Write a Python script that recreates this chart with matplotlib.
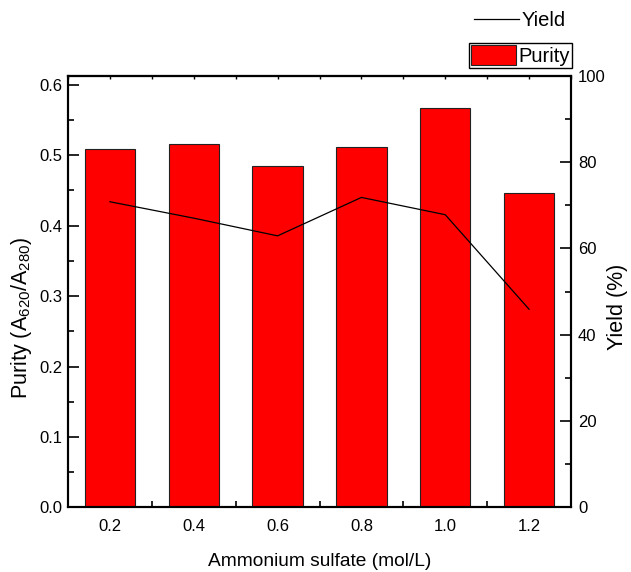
import matplotlib
matplotlib.use("Agg")
import matplotlib.pyplot as plt
from matplotlib.ticker import MultipleLocator, FormatStrFormatter
from matplotlib.lines import Line2D
from matplotlib.patches import Patch

plt.rcParams['font.family'] = ['Liberation Sans', 'DejaVu Sans']
plt.rcParams['mathtext.default'] = 'regular'

concentration = [0.2, 0.4, 0.6, 0.8, 1.0, 1.2]
purity = [0.509, 0.516, 0.485, 0.512, 0.567, 0.447]
yield_pct = [70.8, 67.0, 62.9, 71.8, 67.8, 45.9]
x_ticks = [0.2, 0.4, 0.6, 0.8, 1.0, 1.2]

fig = plt.figure(figsize=(6.31, 5.72), dpi=100)
ax = fig.add_axes([0.1078, 0.1129, 0.7971, 0.7548])
ax.bar(concentration, purity, width=0.12, color='#ff0000', edgecolor='#222222', linewidth=0.8, zorder=2)
ax.set_xlim(0.1, 1.3)
ax.set_ylim(0, 0.613)
ax.set_xticks(x_ticks)
ax.xaxis.set_minor_locator(MultipleLocator(0.1))
ax.xaxis.set_major_formatter(FormatStrFormatter('%.1f'))
ax.yaxis.set_major_locator(MultipleLocator(0.1))
ax.yaxis.set_minor_locator(MultipleLocator(0.05))
ax.yaxis.set_major_formatter(FormatStrFormatter('%.1f'))
ax.tick_params(which='both', direction='in', labelsize=12, width=1.2, top=False)
ax.tick_params(which='major', length=8)
ax.tick_params(which='minor', length=4)
ax.tick_params(axis='x', which='major', pad=8)
ax.tick_params(axis='y', which='major', pad=4)
ax.set_xlabel('Ammonium sulfate (mol/L)', fontsize=13.8, labelpad=14)
ax.set_ylabel('Purity (A$_{620}$/A$_{280}$)', fontsize=15.5)
ax.yaxis.set_label_coords(-0.068, 0.44)
for s in ax.spines.values():
    s.set_linewidth(1.5)

top = ax.secondary_xaxis('top')
top.set_xticks(x_ticks)
top.xaxis.set_minor_locator(MultipleLocator(0.1))
top.tick_params(which='both', direction='in', length=2.5, width=1.0, labeltop=False)
top.spines['top'].set_linewidth(1.5)

ax2 = ax.twinx()
ax2.plot(concentration, yield_pct, color='black', linewidth=0.9, zorder=3)
ax2.set_ylim(0, 100)
ax2.yaxis.set_major_locator(MultipleLocator(20))
ax2.yaxis.set_minor_locator(MultipleLocator(10))
ax2.tick_params(which='both', direction='in', labelsize=12, width=1.2, pad=5)
ax2.tick_params(which='major', length=8)
ax2.tick_params(which='minor', length=4)
ax2.set_ylabel('Yield (%)', fontsize=15.5)
ax2.yaxis.set_label_coords(1.072, 0.465)
for s in ax2.spines.values():
    s.set_linewidth(1.5)

leg1 = fig.legend([Line2D([], [], color='black', linewidth=0.9)], ['Yield'],
                  loc='center right', bbox_to_anchor=(0.9, 1 - 21 / 572),
                  frameon=False, fontsize=14.5, handlelength=2.2, handletextpad=0.15,
                  borderpad=0.1, borderaxespad=0)
leg2 = fig.legend([Patch(facecolor='#ff0000', edgecolor='#222222', linewidth=0.8)], ['Purity'],
                  loc='center right', bbox_to_anchor=(0.907, 1 - 55.5 / 572),
                  frameon=True, fancybox=False, framealpha=1, edgecolor='black',
                  fontsize=14.5, handlelength=2.2, handleheight=1.15, handletextpad=0.15,
                  borderpad=0.1, borderaxespad=0)
leg2.get_frame().set_linewidth(1.0)

fig.savefig('out.png', dpi=100)
